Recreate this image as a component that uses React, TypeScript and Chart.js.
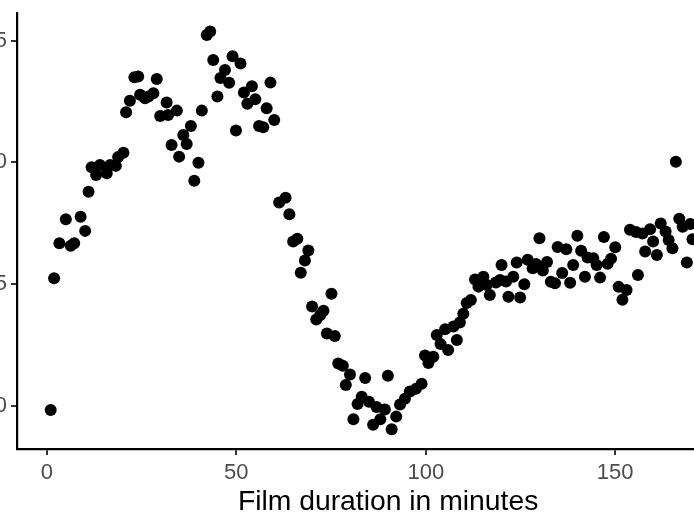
import React, { useEffect, useRef } from "react";
import { Chart, registerables } from "chart.js";

Chart.register(...registerables);

const minutes = [1.0,1.9,3.3,5.0,6.3,7.2,8.9,10.1,11.0,11.8,13.0,14.0,15.8,16.7,18.2,18.8,20.2,20.9,21.9,23.1,24.1,24.6,25.9,26.8,28.1,29.0,29.9,31.6,32.0,32.9,34.3,34.9,36.0,36.9,38.0,38.9,40.0,40.9,42.2,43.1,43.9,45.0,45.8,47.0,48.1,49.0,49.9,51.1,52.0,52.9,54.1,55.0,56.0,57.1,58.0,59.0,60.0,61.3,63.0,64.0,65.0,66.1,67.0,68.1,69.0,70.0,71.1,72.1,73.0,73.9,75.1,76.0,76.9,78.1,78.9,80.0,80.9,82.0,83.1,84.0,85.0,86.1,87.0,88.0,89.2,90.0,91.0,92.2,93.2,94.5,95.8,97.4,98.9,99.8,100.7,102.0,102.9,103.9,105.1,105.9,107.3,108.2,109.0,109.9,110.8,111.9,113.0,113.9,115.2,116.1,116.9,118.5,119.6,120.0,121.2,121.8,123.1,124.0,124.9,126.0,126.9,128.2,129.1,130.0,130.9,132.0,133.0,134.1,134.8,136.0,137.1,138.1,138.9,140.0,141.0,142.0,142.7,144.2,145.1,146.0,147.0,148.0,148.9,150.0,150.9,151.9,153.0,153.9,155.5,156.0,157.2,157.9,159.2,160.0,161.0,162.0,163.3,164.1,165.1,166.0,166.9,167.8,168.9,169.8,170.4];

const values = [5.982,6.523,6.667,6.766,6.657,6.667,6.776,6.718,6.879,6.979,6.948,6.989,6.955,6.989,6.985,7.021,7.039,7.205,7.253,7.349,7.352,7.277,7.263,7.270,7.283,7.342,7.190,7.245,7.194,7.071,7.212,7.023,7.112,7.075,7.149,6.924,6.998,7.212,7.523,7.537,7.420,7.270,7.346,7.379,7.326,7.435,7.130,7.406,7.286,7.240,7.312,7.259,7.149,7.144,7.222,7.327,7.173,6.835,6.854,6.786,6.674,6.686,6.546,6.596,6.637,6.407,6.354,6.371,6.390,6.296,6.460,6.286,6.173,6.164,6.085,6.128,5.944,6.007,6.037,6.114,6.016,5.922,5.995,5.944,5.984,6.123,5.903,5.955,6.005,6.028,6.058,6.069,6.090,6.206,6.175,6.201,6.290,6.253,6.314,6.229,6.325,6.270,6.342,6.378,6.422,6.434,6.518,6.489,6.530,6.496,6.455,6.506,6.516,6.578,6.510,6.447,6.530,6.588,6.444,6.499,6.599,6.564,6.582,6.688,6.555,6.590,6.509,6.503,6.652,6.545,6.643,6.505,6.578,6.698,6.636,6.530,6.609,6.606,6.578,6.526,6.693,6.583,6.604,6.651,6.488,6.435,6.475,6.723,6.713,6.537,6.707,6.633,6.725,6.674,6.619,6.748,6.715,6.681,6.647,7.002,6.768,6.735,6.588,6.746,6.684];

const xTickValues = [0, 50, 100, 150];
const xTickLabels = ["0", "50", "100", "150"];
const yTickValues = [6.0, 6.5, 7.0, 7.5];
const yTickLabels = ["6.0", "6.5", "7.0", "7.5"];
const xTitle = "Film duration in minutes";

const FONT = "'Liberation Sans', Arial, Helvetica, sans-serif";
const SHIFT = 40;
const CW = 810;
const CH = 532;

export default function App() {
  const ref = useRef<HTMLCanvasElement | null>(null);

  useEffect(() => {
    if (!ref.current) return;
    const n = Math.min(minutes.length, values.length);
    const pts = [];
    for (let i = 0; i < n; i++) pts.push({ x: minutes[i], y: values[i] });

    const chart = new Chart(ref.current, {
      type: "scatter",
      data: {
        datasets: [
          {
            data: pts,
            backgroundColor: "#000000",
            borderWidth: 0,
            pointRadius: 6,
            pointHoverRadius: 6,
          },
        ],
      },
      options: {
        animation: false,
        responsive: false,
        devicePixelRatio: 1,
        events: [],
        layout: { padding: { top: 13, right: 10.8, left: 0, bottom: 0 } },
        plugins: { legend: { display: false }, tooltip: { enabled: false } },
        scales: {
          x: {
            type: "linear",
            min: -7.89,
            max: 188,
            afterBuildTicks: (scale: any) => {
              scale.ticks = xTickValues.map((v) => ({ value: v }));
            },
            afterFit: (scale: any) => {
              scale.height = 83;
              scale.paddingLeft = 0;
              scale.paddingRight = 0;
            },
            grid: {
              drawOnChartArea: false,
              drawTicks: true,
              tickLength: 6,
              color: "#333333",
              lineWidth: 2,
            },
            border: { display: true, color: "#000000", width: 2.2 },
            ticks: {
              autoSkip: false,
              maxRotation: 0,
              minRotation: 0,
              padding: 5,
              color: "#4D4D4D",
              font: { family: FONT, size: 22 },
              callback: (_v: any, i: number) => xTickLabels[i],
            },
            title: {
              display: true,
              text: xTitle,
              color: "#000000",
              font: { family: FONT, size: 28.3 },
              padding: { top: 0, bottom: 13 },
            },
          },
          y: {
            type: "linear",
            min: 5.822,
            max: 7.613,
            afterBuildTicks: (scale: any) => {
              scale.ticks = yTickValues.map((v) => ({ value: v }));
            },
            afterFit: (scale: any) => {
              scale.width = SHIFT + 17;
              scale.paddingTop = 0;
              scale.paddingBottom = 0;
            },
            grid: {
              drawOnChartArea: false,
              drawTicks: true,
              tickLength: 6,
              color: "#333333",
              lineWidth: 2,
            },
            border: { display: true, color: "#000000", width: 2.2 },
            ticks: {
              autoSkip: false,
              padding: 4,
              color: "#4D4D4D",
              font: { family: FONT, size: 22 },
              callback: (_v: any, i: number) => yTickLabels[i],
            },
          },
        },
      },
    });
    return () => chart.destroy();
  }, []);

  return (
    <div
      style={{
        position: "fixed",
        left: 0,
        top: 0,
        width: 694,
        height: 532,
        overflow: "hidden",
        background: "#ffffff",
      }}
    >
      <canvas
        ref={ref}
        width={CW}
        height={CH}
        style={{ position: "absolute", left: -SHIFT, top: 0, width: CW, height: CH }}
      />
    </div>
  );
}
